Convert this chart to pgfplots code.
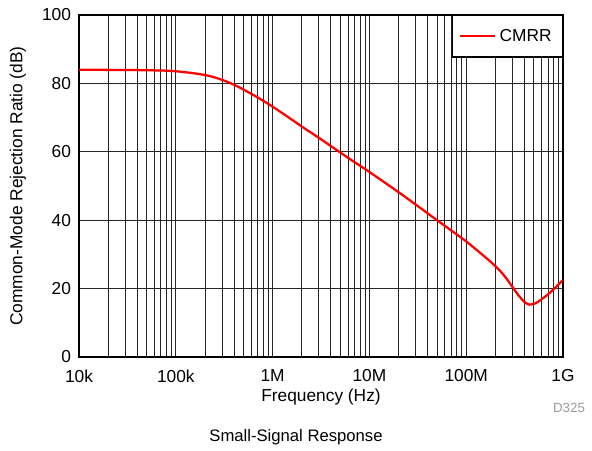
\documentclass[border=0pt]{standalone}
\usepackage{pgfplots}
\pgfplotsset{compat=1.18}
\usepackage{fontspec}
\setmainfont{Liberation Sans}
\begin{document}
\begin{tikzpicture}
\begin{axis}[
  name=ax,
  scale only axis,
  width=363pt, height=256.5pt,
  xmode=log,
  xmin=1e4, xmax=1e9,
  ymin=0, ymax=100,
  ytick={0,20,40,60,80,100},
  xtick={1e4,1e5,1e6,1e7,1e8,1e9},
  xticklabels={10k,100k,1M,10M,100M,1G},
  minor xtick={2e4,3e4,4e4,5e4,6e4,7e4,8e4,9e4,2e5,3e5,4e5,5e5,6e5,7e5,8e5,9e5,2e6,3e6,4e6,5e6,6e6,7e6,8e6,9e6,2e7,3e7,4e7,5e7,6e7,7e7,8e7,9e7,2e8,3e8,4e8,5e8,6e8,7e8,8e8,9e8},
  grid=both,
  major grid style={black!85, line width=0.6pt},
  minor grid style={black!85, line width=0.6pt},
  tick style={draw=none},
  axis line style={line width=1.5pt},
  tick label style={font=\fontsize{13}{15}\selectfont},
  xticklabel shift=6pt,
  yticklabel shift=2.5pt,
  /pgf/number format/assume math mode=true,
  xlabel={Frequency (Hz)},
  ylabel={Common-Mode Rejection Ratio (dB)},
  label style={font=\fontsize{13}{15}\selectfont},
  xlabel style={at={(axis description cs:0.5,-0.117)}, anchor=center},
  ylabel style={at={(axis description cs:-0.126,0.5)}, anchor=center},
  legend style={at={(1,1)}, anchor=north east, draw=black, line width=1.1pt, font=\fontsize{13}{15}\selectfont, inner xsep=5pt, inner ysep=7.2pt, nodes={inner sep=3pt}},
  legend cell align=left,
  legend image code/.code={\draw[#1, line width=1.6pt] (0cm,0cm) -- (0.9cm,0cm);},
]
\addplot[red, line width=1.7pt, smooth, tension=0.6] coordinates {
(1e4,84) (2e4,83.95) (5e4,83.85) (1e5,83.55) (2e5,82.45) (3e5,81.05) (4e5,79.6) (5e5,78.2) (7e5,75.9) (1e6,73.2)
(1.5e6,69.85) (2e6,67.4) (3e6,64.1) (5e6,59.8) (7e6,57) (1e7,54.1) (2e7,48.2) (3e7,44.6) (5e7,40) (7e7,37) (1e8,33.8)
(1.4e8,30.4) (2e8,26.6) (2.5e8,23.6) (3e8,20.5) (3.5e8,17.9) (4e8,16.1) (4.5e8,15.3) (5e8,15.5) (5.5e8,16.1) (6.3e8,17.3) (7e8,18.3) (8e8,19.8) (1e9,22.5)
};
\addlegendentry{CMRR}
\end{axis}
\node[anchor=east, font=\fontsize{10}{12}\selectfont, text=black!40] at ([xshift=20pt,yshift=-38pt]ax.south east) {D325};
\node[anchor=center, font=\fontsize{12.5}{15}\selectfont] at ([xshift=162.75pt,yshift=-60pt]ax.south west) {Small-Signal Response};
\path[use as bounding box] ([xshift=-59.25pt,yshift=-69.75pt]ax.south west) rectangle ([xshift=384.75pt,yshift=267.75pt]ax.south west);
\end{tikzpicture}
\end{document}
